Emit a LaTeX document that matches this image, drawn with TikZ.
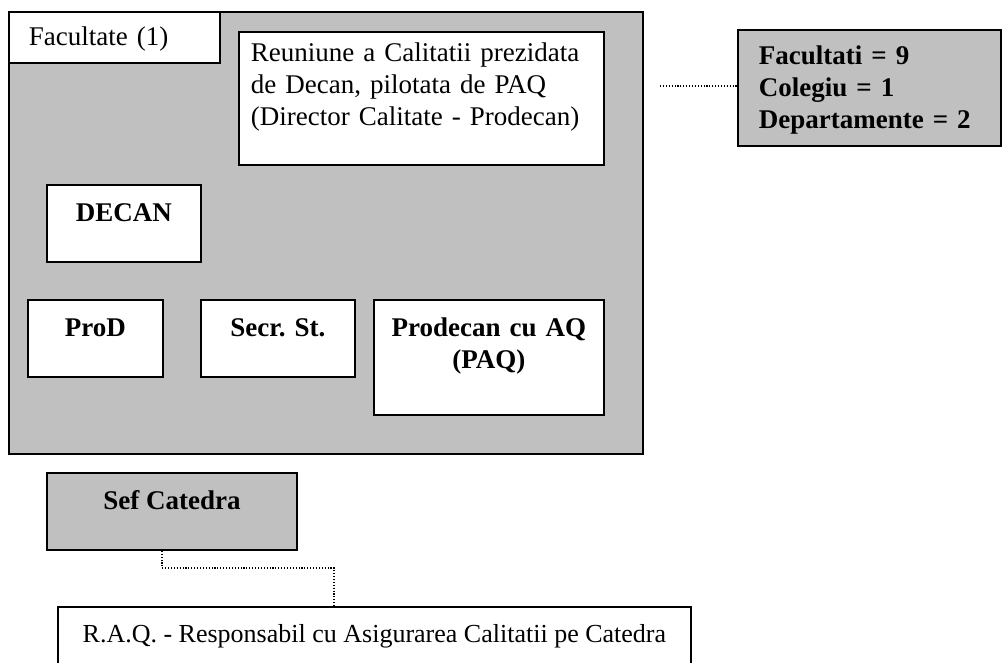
\documentclass[tikz,border=0pt]{standalone}
\usepackage{fontspec}
\setmainfont{Liberation Serif}
\definecolor{boxgray}{RGB}{192,192,192}
\begin{document}
\begin{tikzpicture}[x=1pt,y=-1pt,
  box/.style={draw=black, line width=1.8pt, fill=white, inner ysep=0pt, inner xsep=0pt, anchor=north west,
    font=\fontsize{27}{32}\selectfont},
  gbox/.style={box, fill=boxgray},
  bbox/.style={box, font=\fontsize{27}{32}\selectfont\bfseries},
  dots/.style={line width=1.1pt, dash pattern=on 1.1pt off 1.8pt}]
\useasboundingbox (0,0) rectangle (1007,663);
\clip (0,0) rectangle (1007,663);

% outer faculty area
\node[gbox, minimum width=634pt, minimum height=442pt] (fac) at (8,11) {};
\node[box, minimum width=211pt, minimum height=51pt, text height=34pt, text depth=17pt,
  align=left, text width=171pt, inner xsep=20pt] (facl) at (8,11) {Facultate (1)};
\node[box, minimum width=365pt, minimum height=133pt, text height=30pt, text depth=103pt,
  inner xsep=12pt, text width=341pt, align=left] (reun) at (238,31)
  {Reuniune a Calitatii prezidata\\ de Decan, pilotata de PAQ\\ (Director Calitate - Prodecan)};
\node[bbox, minimum width=154pt, minimum height=77pt, text height=37pt, text depth=40pt] (decan) at (46,184) {DECAN};
\node[bbox, minimum width=135pt, minimum height=77pt, text height=37pt, text depth=40pt] (prod) at (27,299) {ProD};
\node[bbox, minimum width=154pt, minimum height=77pt, text height=37pt, text depth=40pt] (secr) at (200,299) {Secr. St.};
\node[bbox, minimum width=230pt, minimum height=115pt, text height=37pt, text depth=78pt,
  text width=230pt, align=center] (paq) at (373,299) {Prodecan cu AQ\\ (PAQ)};

% right info box
\node[gbox, font=\fontsize{27}{32}\selectfont\bfseries, minimum width=263pt, minimum height=116pt,
  text height=35pt, text depth=81pt, inner xsep=21pt, text width=221pt, align=left] (info) at (737,29)
  {Facultati = 9\\ Colegiu = 1\\ Departamente = 2};
\coordinate (infoend) at (660,86);
\draw[dots] (infoend) -- (infoend -| info.west);

% chair
\node[gbox, font=\fontsize{27}{32}\selectfont\bfseries, minimum width=250pt, minimum height=77pt,
  text height=37pt, text depth=40pt] (sef) at (46,472) {Sef Catedra};

% R.A.Q.
\node[box, font=\fontsize{26}{31}\selectfont, minimum width=633pt, minimum height=90pt,
  text height=36pt, text depth=54pt] (raq) at (57,606)
  {R.A.Q. - Responsabil cu Asigurarea Calitatii pe Catedra};

\coordinate (c1) at (162,568);
\coordinate (c2) at (334,568);
\draw[dots] (sef.south -| c1) -- (c1) -- (c2) -- (raq.north -| c2);
\end{tikzpicture}
\end{document}
